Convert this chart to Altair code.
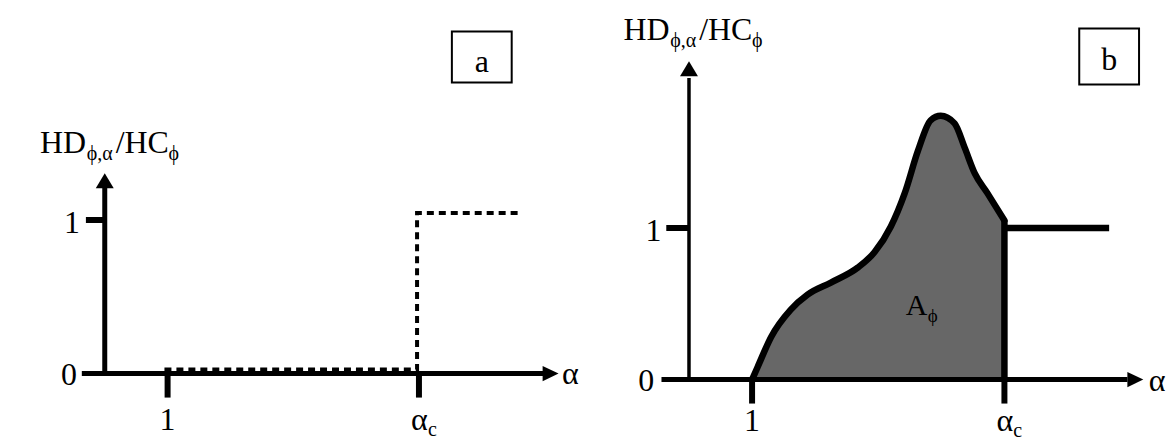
import altair as alt
import pandas as pd

FONT = "'Liberation Serif', 'Times New Roman', 'DejaVu Serif', serif"
BLACK = "black"

# ---------------- data (schematic units: alpha on x, HD/HC on y) ----------------
alpha_ticks = [1.0, 5.0]            # "1" and "alpha_c"
hd_tick = 1.0

# panel a: dashed step function
a_step_x = [0.95, 4.97, 4.97, 6.63]
a_step_y = [0.026, 0.026, 1.045, 1.045]

# panel b: HD/HC curve from alpha = 1 to alpha_c, then plateau at 1
b_curve_x = [1.0, 1.09, 1.30, 1.61, 1.88, 2.25, 2.68, 2.94, 3.20, 3.42, 3.63,
             3.83, 3.99, 4.21, 4.37, 4.53, 4.73, 5.0]
b_curve_y = [0.0, 0.085, 0.28, 0.46, 0.56, 0.64, 0.74, 0.84, 1.01, 1.23, 1.51,
             1.71, 1.74, 1.69, 1.53, 1.36, 1.23, 1.05]
b_plateau_x = [5.0, 6.66]
b_plateau_y = 1.0

# axis extents
a_xaxis = [-0.365, 7.0]
a_yaxis = [-0.016, 1.21]
b_xaxis = [-0.436, 6.95]
b_yaxis = [0.0, 1.99]

# ---------------- scales ----------------
def sc(lo, hi):
    return alt.Scale(domain=[lo, hi], nice=False, zero=False)

XA, YA = sc(-1.5397, 7.587), sc(-0.4156, 2.3766)
XB, YB = sc(-1.7036, 7.5138), sc(-0.3816, 2.4474)


def enc_xy(ch, sx, sy, x="x", y="y"):
    return ch.encode(x=alt.X(f"{x}:Q", scale=sx, axis=None),
                     y=alt.Y(f"{y}:Q", scale=sy, axis=None))


def rule(sx, sy, x1, y1, x2, y2, width):
    df = pd.DataFrame({"x": [x1], "y": [y1], "x2": [x2], "y2": [y2]})
    return alt.Chart(df).mark_rule(color=BLACK, strokeWidth=width, strokeCap="butt").encode(
        x=alt.X("x:Q", scale=sx, axis=None), x2="x2:Q",
        y=alt.Y("y:Q", scale=sy, axis=None), y2="y2:Q")


def arrow(sx, sy, x, y, shape, size):
    df = pd.DataFrame({"x": [x], "y": [y]})
    return enc_xy(alt.Chart(df).mark_point(filled=True, shape=shape, size=size,
                                           color=BLACK, opacity=1, strokeWidth=0), sx, sy)


def txt(sx, sy, x, y, text, size, dx=0, dy=0, align="left", baseline="alphabetic"):
    df = pd.DataFrame({"x": [x], "y": [y], "t": [text]})
    return enc_xy(alt.Chart(df).mark_text(font=FONT, fontSize=size, dx=dx, dy=dy,
                                          align=align, baseline=baseline, color=BLACK),
                  sx, sy).encode(text="t:N")


def ylabel(sx, sy, x, y):
    return [txt(sx, sy, x, y, "HD", 32),
            txt(sx, sy, x, y, "ϕ,α", 20, dx=47, dy=7),
            txt(sx, sy, x, y, "/HC", 32, dx=76),
            txt(sx, sy, x, y, "ϕ", 20, dx=129, dy=7)]


def alpha_c(sx, sy, x, y):
    return [txt(sx, sy, x, y, "α", 32), txt(sx, sy, x, y, "c", 20, dx=17, dy=6)]


def box(sx, sy, x1, x2, y1, y2, letter, lx, ly):
    df = pd.DataFrame({"x": [x1], "x2": [x2], "y": [y1], "y2": [y2]})
    r = alt.Chart(df).mark_rect(fill="white", stroke=BLACK, strokeWidth=2).encode(
        x=alt.X("x:Q", scale=sx, axis=None), x2="x2:Q",
        y=alt.Y("y:Q", scale=sy, axis=None), y2="y2:Q")
    return [r, txt(sx, sy, lx, ly, letter, 32, align="center", baseline="middle")]


UP_A = "M-1,0.83L0,-0.83L1,0.83Z"
RIGHT_A = "M-1,-0.95L1,0L-1,0.95Z"

# ---------------- panel a ----------------
step_df = pd.DataFrame({"x": a_step_x, "y": a_step_y, "o": list(range(len(a_step_x)))})
a_layers = [
    enc_xy(alt.Chart(step_df).mark_line(color=BLACK, strokeWidth=4, strokeDash=[7, 5]),
           XA, YA).encode(order="o:O"),
    rule(XA, YA, a_xaxis[0], 0, a_xaxis[1], 0, 5),
    rule(XA, YA, 0, a_yaxis[0], 0, a_yaxis[1], 5),
    rule(XA, YA, -0.3, hd_tick, 0, hd_tick, 6),
    rule(XA, YA, alpha_ticks[0], 0, alpha_ticks[0], -0.156, 6),
    rule(XA, YA, alpha_ticks[1], 0, alpha_ticks[1], -0.156, 6),
    arrow(XA, YA, 7.095, 0, RIGHT_A, 256),
    arrow(XA, YA, 0, 1.256, UP_A, 324),
    txt(XA, YA, -0.57, 0, "0", 32, align="center", baseline="middle", dy=1),
    txt(XA, YA, -0.52, hd_tick, "1", 32, align="center", baseline="middle", dy=3),
    txt(XA, YA, alpha_ticks[0], -0.364, "1", 32, align="center"),
    txt(XA, YA, 7.41, 0, "α", 32, align="center", baseline="middle"),
] + alpha_c(XA, YA, 4.873, -0.37) + ylabel(XA, YA, -1.032, 1.435) + \
    box(XA, YA, 5.524, 6.476, 1.896, 2.227, "a", 6.0, 2.03)

# ---------------- panel b ----------------
curve_df = pd.DataFrame({"x": b_curve_x, "y": b_curve_y})
b_layers = [
    alt.Chart(curve_df).mark_area(interpolate="monotone", color="#676767").encode(
        x=alt.X("x:Q", scale=XB, axis=None), y=alt.Y("y:Q", scale=YB, axis=None),
        y2=alt.datum(0)),
    enc_xy(alt.Chart(curve_df).mark_line(interpolate="monotone", color=BLACK,
                                         strokeWidth=6.5, strokeCap="round"), XB, YB),
    rule(XB, YB, b_plateau_x[0], b_plateau_y, b_plateau_x[1], b_plateau_y, 6.5),
    rule(XB, YB, alpha_ticks[1], 0, alpha_ticks[1], b_curve_y[-1], 6.5),
    rule(XB, YB, b_xaxis[0], 0, b_xaxis[1], 0, 5),
    rule(XB, YB, 0, b_yaxis[0], 0, b_yaxis[1], 3.5),
    rule(XB, YB, -0.36, hd_tick, 0, hd_tick, 6),
    rule(XB, YB, alpha_ticks[0], 0, alpha_ticks[0], -0.158, 6),
    rule(XB, YB, alpha_ticks[1], 0, alpha_ticks[1], -0.158, 6),
    arrow(XB, YB, 7.075, 0, RIGHT_A, 256),
    arrow(XB, YB, 0, 2.05, UP_A, 324),
    txt(XB, YB, -0.676, 0, "0", 32, align="center", baseline="middle", dy=1),
    txt(XB, YB, -0.565, hd_tick, "1", 32, align="center", baseline="middle", dy=3),
    txt(XB, YB, alpha_ticks[0], -0.342, "1", 32, align="center"),
    txt(XB, YB, 7.42, -0.01, "α", 32, align="center", baseline="middle"),
    txt(XB, YB, 3.435, 0.428, "A", 30),
    txt(XB, YB, 3.435, 0.428, "ϕ", 19, dx=22, dy=7),
] + alpha_c(XB, YB, 4.873, -0.34) + ylabel(XB, YB, -1.04, 2.237) + \
    box(XB, YB, 6.186, 7.134, 1.947, 2.316, "b", 6.66, 2.105)

pa = alt.layer(*a_layers).properties(width=575, height=430)
pb = alt.layer(*b_layers).properties(width=583, height=430)

chart = alt.hconcat(pa, pb, spacing=0, bounds="flush").properties(
    padding=0, background="white"
).configure_view(stroke=None)

chart.save("out.html", embed_options={"renderer": "svg", "actions": False})
